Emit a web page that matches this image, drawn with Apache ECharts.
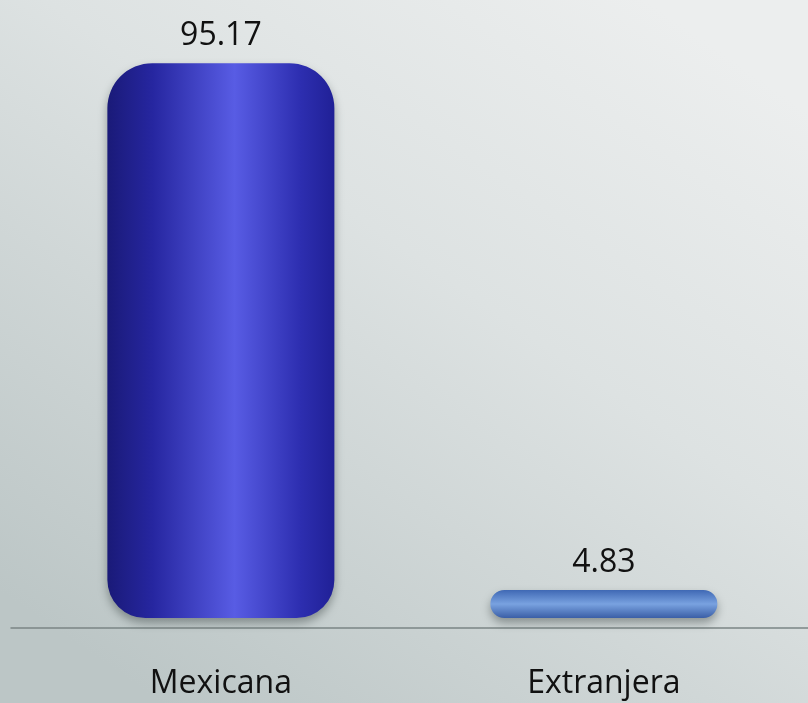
<!DOCTYPE html>
<html>
<head>
<meta charset="utf-8">
<script src="https://cdn.jsdelivr.net/npm/echarts@6/dist/echarts.min.js"></script>
<style>
  html, body { margin: 0; padding: 0; }
  #chart { width: 808px; height: 703px; }
</style>
</head>
<body>
<div id="chart"></div>
<script>
// datos
const categories = ['Mexicana', 'Extranjera']
const values = [95.17, 4.83]
const positions = [0, 1]

const chart = echarts.init(document.getElementById('chart'))

// cilindro azul oscuro y disco azul acero
const barColors = [
  new echarts.graphic.LinearGradient(0, 0, 1, 0, [
    { offset: 0, color: '#1a1a78' },
    { offset: 0.2, color: '#2626a0' },
    { offset: 0.56, color: '#585ce4' },
    { offset: 0.85, color: '#2d2eb0' },
    { offset: 1, color: '#202096' }
  ]),
  new echarts.graphic.LinearGradient(0, 0, 0, 1, [
    { offset: 0, color: '#3f68b4' },
    { offset: 0.5, color: '#79a2e0' },
    { offset: 1, color: '#3a5ea6' }
  ])
]
const radii = [[45, 45, 38, 38], 15]

const option = {
  backgroundColor: new echarts.graphic.LinearGradient(0.8, 0, 0.2, 1, [
    { offset: 0, color: '#eceeee' },
    { offset: 0.4, color: '#dde2e2' },
    { offset: 1, color: '#bcc6c6' }
  ]),
  grid: {
    left: 11,
    right: 0,
    top: 35,
    bottom: 75
  },
  xAxis: {
    type: 'value',
    min: -0.548,
    max: 1.533,
    splitLine: { show: false },
    axisLine: {
      onZero: false,
      lineStyle: { color: '#7b8585', width: 1.5 }
    },
    axisTick: { show: false },
    axisLabel: {
      customValues: positions,
      formatter: v => categories[v],
      color: '#111',
      fontSize: 32,
      fontFamily: 'Open Sans',
      margin: 40
    }
  },
  yAxis: {
    type: 'value',
    min: -1.7,
    max: 100,
    show: false,
    splitLine: { show: false }
  },
  series: [
    {
      type: 'bar',
      barWidth: 227,
      data: values.map((v, i) => ({
        value: [positions[i], v],
        itemStyle: {
          color: barColors[i],
          borderRadius: radii[i],
          shadowColor: 'rgba(30,40,40,0.4)',
          shadowBlur: 10,
          shadowOffsetY: 5
        }
      })),
      label: {
        show: true,
        position: 'top',
        distance: 11,
        color: '#111',
        fontSize: 32,
        fontFamily: 'Open Sans',
        formatter: p => p.value[1]
      }
    }
  ]
}

chart.setOption(option)
</script>
</body>
</html>
